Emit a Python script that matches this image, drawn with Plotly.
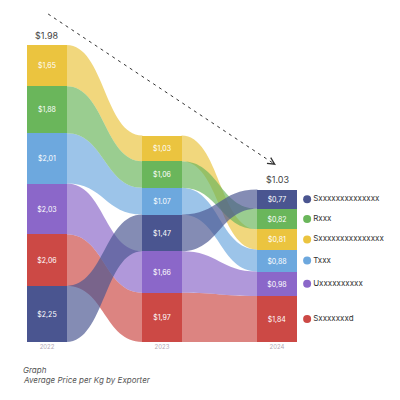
import plotly.graph_objects as go

# data
years = ["2022", "2023", "2024"]
exporters = ["Sxxxxxxxxxxxxxx", "Rxxx", "Sxxxxxxxxxxxxxxx", "Txxx", "Uxxxxxxxxxx", "Sxxxxxxxd"]
colors = ["#4A5590", "#6AB65B", "#EBC43F", "#6DA8DE", "#8B67C9", "#CC4945"]
price_2022 = [2.25, 1.88, 1.65, 2.01, 2.03, 2.06]
price_2023 = [1.47, 1.06, 1.03, 1.07, 1.66, 1.97]
price_2024 = [0.77, 0.82, 0.81, 0.88, 0.98, 1.84]
labels_2022 = ["$2,25", "$1,88", "$1,65", "$2,01", "$2,03", "$2,06"]
labels_2023 = ["$1,47", "$1,06", "$1,03", "$1.07", "$1,66", "$1,97"]
labels_2024 = ["$0,77", "$0,82", "$0,81", "$0,88", "$0,98", "$1,84"]
# stacking order, top to bottom (indexes into exporters)
order_2022 = [2, 1, 3, 4, 5, 0]
order_2023 = [2, 1, 3, 0, 4, 5]
order_2024 = [0, 1, 2, 3, 4, 5]
head_labels = ["$1.98", "", "$1.03"]

prices = [price_2022, price_2023, price_2024]
labels = [labels_2022, labels_2023, labels_2024]
orders = [order_2022, order_2023, order_2024]

W = H = 392          # page adds 8px body margin
BAR_W = 0.34
PX_X = 115           # px per column step
PX_Y = 25            # px per dollar
X0_PX = 39           # centre of first column
BOTTOM = 58          # bottom margin


def rgba(hexc, a):
    h = hexc.lstrip("#")
    return f"rgba({int(h[0:2],16)},{int(h[2:4],16)},{int(h[4:6],16)},{a})"


# bottoms of each segment per year (stack from bottom up)
bases = []
for yi in range(3):
    b = [0.0] * len(exporters)
    acc = 0.0
    for idx in reversed(orders[yi]):
        b[idx] = acc
        acc += prices[yi][idx]
    bases.append(b)

fig = go.Figure()

# ribbons (navy drawn last so it sits on top at crossings)
shapes = []
for yi in range(2):
    x0 = yi + BAR_W / 2
    x1 = yi + 1 - BAR_W / 2
    xm = (x0 + x1) / 2
    for i in [5, 4, 3, 2, 1, 0]:
        c = colors[i]
        b0 = bases[yi][i]
        t0 = b0 + prices[yi][i]
        b1 = bases[yi + 1][i]
        t1 = b1 + prices[yi + 1][i]
        path = (f"M {x0},{t0} C {xm},{t0} {xm},{t1} {x1},{t1} "
                f"L {x1},{b1} C {xm},{b1} {xm},{b0} {x0},{b0} Z")
        shapes.append(dict(type="path", path=path, xref="x", yref="y",
                           fillcolor=rgba(c, 0.68), line=dict(width=0), layer="below"))

# bars
for i, name in enumerate(exporters):
    fig.add_trace(go.Bar(
        x=[0, 1, 2],
        y=[prices[k][i] for k in range(3)],
        base=[bases[k][i] for k in range(3)],
        width=BAR_W,
        marker=dict(color=colors[i], line=dict(width=0)),
        text=[labels[k][i] for k in range(3)],
        textposition="inside",
        insidetextanchor="middle",
        textangle=0,
        textfont=dict(color="white", size=7, family="Inter"),
        showlegend=False,
        hoverinfo="skip",
    ))

# legend beside 2024
for i, name in enumerate(exporters):
    fig.add_trace(go.Scatter(
        x=[2.262],
        y=[bases[2][i] + price_2024[i] / 2],
        mode="markers+text",
        marker=dict(color=colors[i], size=8),
        text=[name],
        textposition="middle right",
        textfont=dict(color="#333333", size=8, family="Inter"),
        showlegend=False,
        hoverinfo="skip",
        cliponaxis=False,
    ))

totals = [sum(p) for p in prices]
annotations = []
for k in range(3):
    if head_labels[k]:
        annotations.append(dict(x=k, y=totals[k] + 0.1, text=head_labels[k], showarrow=False,
                                yanchor="bottom", font=dict(size=9, color="#444444", family="Inter")))

# dashed trend arrow
sx, sy = 0.01, totals[0] + 1.24
ex, ey = 1.99, totals[2] + 0.98
shapes.append(dict(type="line", x0=sx, y0=sy, x1=ex, y1=ey, xref="x", yref="y",
                   line=dict(color="#333333", width=1, dash="3px,4px")))
annotations.append(dict(x=ex, y=ey, ax=ex - 0.04, ay=ey + 0.12, axref="x", ayref="y",
                        xref="x", yref="y", text="", showarrow=True, arrowhead=5,
                        arrowsize=1.5, arrowwidth=0.9, arrowcolor="#333333"))

plot_h = H - BOTTOM - 2
annotations.append(dict(x=13 / W, y=-28 / plot_h, xref="paper", yref="paper", text="<i>Graph</i>",
                        showarrow=False, xanchor="left", yanchor="middle",
                        font=dict(size=8, color="#555555", family="Inter")))
annotations.append(dict(x=13 / W, y=-38 / plot_h, xref="paper", yref="paper",
                        text="<i>Average Price per Kg by Exporter</i>",
                        showarrow=False, xanchor="left", yanchor="middle",
                        font=dict(size=8, color="#555555", family="Inter")))

fig.update_layout(
    width=W, height=H,
    margin=dict(l=0, r=0, t=2, b=BOTTOM),
    plot_bgcolor="white", paper_bgcolor="white",
    barmode="overlay",
    bargap=0,
    shapes=shapes,
    annotations=annotations,
    xaxis=dict(range=[-X0_PX / PX_X, (W - X0_PX) / PX_X], tickvals=[0, 1, 2], ticktext=years,
               showgrid=False, zeroline=False, showline=False, ticks="",
               tickfont=dict(size=6, color="#B5AAB5", family="Inter"), fixedrange=True),
    yaxis=dict(range=[0, plot_h / PX_Y], visible=False, fixedrange=True),
)

fig.write_html("out.html")
